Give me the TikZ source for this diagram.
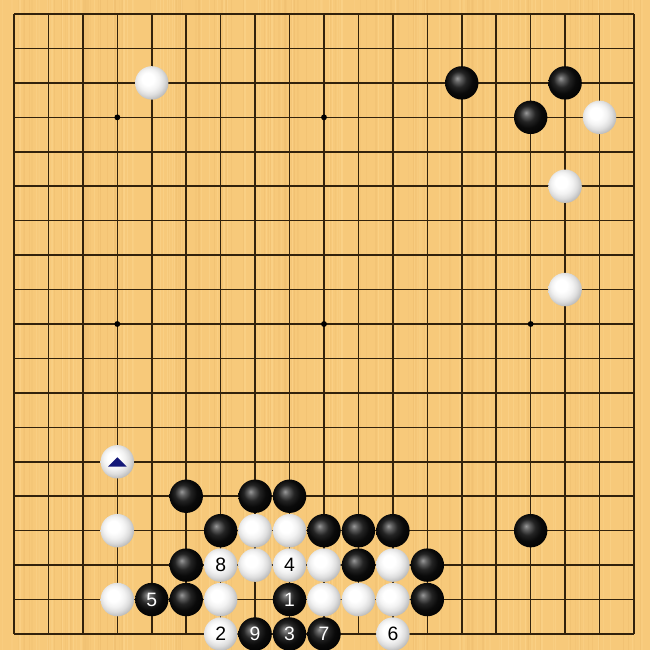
\documentclass[tikz,border=0pt]{standalone}
\usepackage{fontspec}
\setmainfont{Liberation Sans}
\definecolor{woodbase}{RGB}{247,201,122}
\definecolor{woodlight}{RGB}{251,210,136}
\definecolor{wooddark}{RGB}{241,193,114}
\definecolor{gridline}{RGB}{50,34,12}
\definecolor{navymark}{RGB}{20,24,120}
\pgfdeclareradialshading{blackstone}{\pgfpoint{-7bp}{7bp}}{color(0bp)=(black!40); color(5bp)=(black!62); color(12bp)=(black!86); color(20bp)=(black!96); color(32bp)=(black); color(50bp)=(black)}
\pgfdeclareradialshading{whitestone}{\pgfpoint{-7bp}{7bp}}{color(0bp)=(white); color(9bp)=(white); color(16bp)=(black!5); color(22bp)=(black!13); color(28bp)=(black!26); color(33bp)=(black!38); color(50bp)=(black!42)}
\tikzset{
  gridstyle/.style={draw=gridline, line width=1.3pt},
  hoshi/.style={circle, fill=black, inner sep=0pt, minimum size=0.17cm},
  stonebase/.style={circle, inner sep=0pt, minimum size=0.97cm, font=\fontsize{16pt}{16pt}\selectfont},
  bstone/.style={stonebase, shading=blackstone, text=white},
  wstone/.style={stonebase, shading=whitestone, text=black},
  woodstripe/.style={line width=0.035cm},
}
\begin{document}
\begin{tikzpicture}
\useasboundingbox (-0.4065,0.4065) rectangle (18.4645,-18.4645);
\fill[woodbase] (-0.4065,0.4065) rectangle (18.4645,-18.4645);
\pgfmathsetseed{7}
\foreach \i in {1,...,220} {
  \pgfmathsetmacro\xx{rnd*18.9-0.42}
  \pgfmathsetmacro\op{0.3+0.5*rnd}
  \ifodd\i
    \draw[woodstripe, draw=woodlight, opacity=\op] (\xx,0.41) -- (\xx,-18.47);
  \else
    \draw[woodstripe, draw=wooddark, opacity=\op] (\xx,0.41) -- (\xx,-18.47);
  \fi
}
% grid
\foreach \k in {0,...,18} {
  \draw[gridstyle] (\k,0) -- (\k,-18);
  \draw[gridstyle] (0,-\k) -- (18,-\k);
}
% star points
\foreach \c in {3,9,15} {
  \foreach \r in {3,9,15} {
    \node[hoshi] (h\c-\r) at (\c,-\r) {};
  }
}
% white stones
\node[wstone] (w1) at (4,-2) {};
\node[wstone] (w2) at (17,-3) {};
\node[wstone] (w3) at (16,-5) {};
\node[wstone] (w4) at (16,-8) {};
\node[wstone] (w5) at (3,-13) {};
\node[wstone] (w6) at (3,-15) {};
\node[wstone] (w7) at (7,-15) {};
\node[wstone] (w8) at (8,-15) {};
\node[wstone] (w9) at (6,-16) {8};
\node[wstone] (w10) at (7,-16) {};
\node[wstone] (w11) at (8,-16) {4};
\node[wstone] (w12) at (9,-16) {};
\node[wstone] (w13) at (11,-16) {};
\node[wstone] (w14) at (3,-17) {};
\node[wstone] (w15) at (6,-17) {};
\node[wstone] (w16) at (9,-17) {};
\node[wstone] (w17) at (10,-17) {};
\node[wstone] (w18) at (11,-17) {};
\node[wstone] (w19) at (6,-18) {2};
\node[wstone] (w20) at (11,-18) {6};
% black stones
\node[bstone] (b1) at (13,-2) {};
\node[bstone] (b2) at (16,-2) {};
\node[bstone] (b3) at (15,-3) {};
\node[bstone] (b4) at (5,-14) {};
\node[bstone] (b5) at (7,-14) {};
\node[bstone] (b6) at (8,-14) {};
\node[bstone] (b7) at (6,-15) {};
\node[bstone] (b8) at (9,-15) {};
\node[bstone] (b9) at (10,-15) {};
\node[bstone] (b10) at (11,-15) {};
\node[bstone] (b11) at (15,-15) {};
\node[bstone] (b12) at (5,-16) {};
\node[bstone] (b13) at (10,-16) {};
\node[bstone] (b14) at (12,-16) {};
\node[bstone] (b15) at (4,-17) {5};
\node[bstone] (b16) at (5,-17) {};
\node[bstone] (b17) at (8,-17) {1};
\node[bstone] (b18) at (12,-17) {};
\node[bstone] (b19) at (7,-18) {9};
\node[bstone] (b20) at (8,-18) {3};
\node[bstone] (b21) at (9,-18) {7};
% triangle mark
\fill[navymark] ([shift={(-0.27,-0.14)}]w5.center) -- ([shift={(0.27,-0.14)}]w5.center) -- ([shift={(0,0.13)}]w5.center) -- cycle;
\end{tikzpicture}
\end{document}
